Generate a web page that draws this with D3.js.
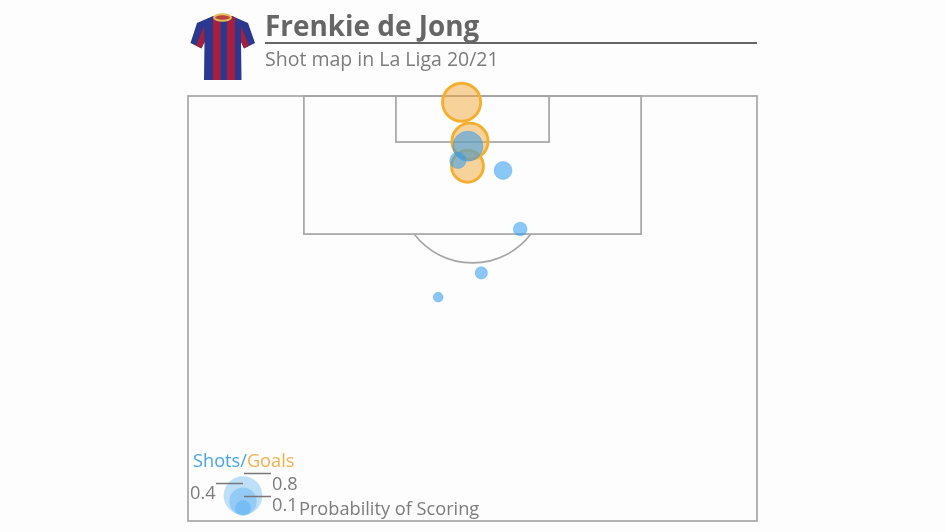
<!DOCTYPE html>
<html><head><meta charset="utf-8">
<script src="https://cdn.jsdelivr.net/npm/d3@7"></script>
<style>html,body{margin:0;padding:0;background:#fdfdfd}svg{display:block;filter:blur(0.35px)}text{font-family:"Open Sans",sans-serif}</style>
</head><body><svg id="c" width="945" height="532"></svg>
<script>
const playerName = "Frenkie de Jong";
const subtitle = "Shot map in La Liga 20/21";
// metres: x across the pitch, y out from the goal line
const goalX = [32.7, 33.7, 33.4];
const goalY = [0.75, 5.4, 8.4];
const goalXg = [0.77, 0.69, 0.54];
const shotX = [33.45, 32.25, 37.65, 39.7, 35.05, 29.9];
const shotY = [6.0, 7.7, 8.9, 15.9, 21.15, 24.05];
const shotXg = [0.48, 0.14, 0.17, 0.10, 0.08, 0.05];
const legendValues = [0.8, 0.4, 0.1];

const svg = d3.select("#c");
const x = d3.scaleLinear().domain([0, 68]).range([188, 757]);
const y = d3.scaleLinear().domain([0, 50.8]).range([96, 521]);
const r = d3.scaleSqrt().domain([0, 1]).range([0, 21.7]);
const line = "#a6a6a6";

const pitch = svg.append("g").attr("fill", "none").attr("stroke", line).attr("stroke-width", 1.7);
pitch.append("rect").attr("x", x(0)).attr("y", y(0)).attr("width", x(68)-x(0)).attr("height", y(50.8)-y(0));
pitch.append("rect").attr("x", x(13.85)).attr("y", y(0)).attr("width", x(54.15)-x(13.85)).attr("height", y(16.5)-y(0));
pitch.append("rect").attr("x", x(24.85)).attr("y", y(0)).attr("width", x(43.15)-x(24.85)).attr("height", y(5.5)-y(0));
const k = x(1)-x(0), R = 8.78*k, sx = x(34), sy = y(11.17), dy = y(16.5)-sy, dx = Math.sqrt(R*R-dy*dy);
pitch.append("path").attr("d", `M${sx-dx},${sy+dy}A${R},${R} 0 0 0 ${sx+dx},${sy+dy}`);

// shirt
const defs = svg.append("defs");
const shirtPath = "M213,16 L232,16 L248,23 L255,43 L244,48.5 L241,42 L241.5,80 L204,80 L204.5,42 L201.5,48.5 L190.5,43 L197,23 Z";
defs.append("clipPath").attr("id","sh").append("path").attr("d", shirtPath);
const shirt = svg.append("g");
const sg = shirt.append("g").attr("clip-path","url(#sh)");
sg.append("rect").attr("x",188).attr("y",12).attr("width",70).attr("height",70).attr("fill","#2b388f");
const stripeX = [213, 227], stripeW = [7.5, 8];
stripeX.forEach((s,i)=>sg.append("rect").attr("x",s).attr("y",12).attr("width",stripeW[i]).attr("height",70).attr("fill","#a81f3d"));
sg.append("path").attr("d","M204,26 L204.5,42 L201.5,48.5 L196,46Z").attr("fill","#a81f3d");
sg.append("path").attr("d","M241,26 L241,42 L244,48.5 L249,46Z").attr("fill","#a81f3d");
shirt.append("ellipse").attr("cx",222.5).attr("cy",17.5).attr("rx",8.5).attr("ry",3.2).attr("fill","#b9433f").attr("stroke","#e3bd5c").attr("stroke-width",2);

// title
svg.append("text").attr("x",265).attr("y",36).attr("font-size",27.9).attr("font-weight",700).attr("fill","#666").text(playerName);
svg.append("line").attr("x1",265).attr("x2",757).attr("y1",43).attr("y2",43).attr("stroke","#666").attr("stroke-width",2);
svg.append("text").attr("x",265).attr("y",66).attr("font-size",19.5).attr("fill","#7c7c7c").text(subtitle);

// marks
svg.append("g").selectAll("circle").data(goalX).join("circle")
  .attr("cx",d=>x(d)).attr("cy",(d,i)=>y(goalY[i])).attr("r",(d,i)=>r(goalXg[i]))
  .attr("fill","#f3a83a").attr("fill-opacity",.5).attr("stroke","#f5ae2e").attr("stroke-width",2.9);
svg.append("g").selectAll("circle").data(shotX).join("circle")
  .attr("cx",d=>x(d)).attr("cy",(d,i)=>y(shotY[i])).attr("r",(d,i)=>r(shotXg[i]))
  .attr("fill","#2e9bf0").attr("fill-opacity",.55).attr("stroke","#2e9bf0").attr("stroke-opacity",.35).attr("stroke-width",1);

// legend
const lg = svg.append("g");
const legendBottom = 515, legendX = 243;
lg.selectAll("circle").data(legendValues).join("circle")
  .attr("cx",legendX).attr("cy",d=>legendBottom-r(d)).attr("r",d=>r(d)+(d===0.1?1:0))
  .attr("fill","#2e9bf0").attr("fill-opacity",.3);
const ls = lg.append("g").attr("stroke","#777").attr("stroke-width",1.5);
ls.append("line").attr("x1",244).attr("x2",271).attr("y1",473.5).attr("y2",473.5);
ls.append("line").attr("x1",216).attr("x2",243).attr("y1",483.5).attr("y2",483.5);
ls.append("line").attr("x1",244).attr("x2",271).attr("y1",496.5).attr("y2",496.5);
const lt = lg.append("g").attr("font-size",18.2).attr("fill","#7c7c7c");
lt.append("text").attr("x",272).attr("y",489.5).text(legendValues[0]);
lt.append("text").attr("x",190).attr("y",499).text(legendValues[1]);
lt.append("text").attr("x",272).attr("y",511).text(legendValues[2]);
lt.append("text").attr("x",299).attr("y",515).text("Probability of Scoring");
const st = lg.append("text").attr("x",193).attr("y",467).attr("font-size",18.2);
st.append("tspan").attr("fill","#45a5ec").text("Shots/");
st.append("tspan").attr("fill","#f5b04a").text("Goals");
</script></body></html>
